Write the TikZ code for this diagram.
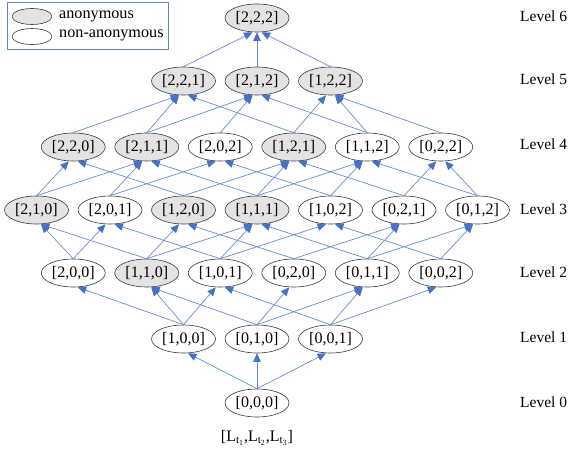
\documentclass[tikz,border=0pt]{standalone}
\usepackage{fontspec}
\setmainfont{Liberation Serif}
\usetikzlibrary{arrows.meta,shapes.geometric}
\definecolor{edgeblue}{HTML}{6A8CD2}
\definecolor{tipblue}{HTML}{4472C4}
\definecolor{anonfill}{HTML}{E3E3E3}
\definecolor{nodeline}{HTML}{3A3A3A}
\definecolor{legendline}{HTML}{6381BE}
\tikzset{
  vec/.style={ellipse,draw=nodeline,line width=0.6pt,fill=white,minimum width=64pt,minimum height=28pt,inner sep=0pt,text=black,font=\fontsize{16}{18}\selectfont},
  anon/.style={vec,fill=anonfill},
  lev/.style={anchor=west,inner sep=0pt,text=black,font=\fontsize{15.5}{18}\selectfont},
  legtext/.style={anchor=west,inner sep=0pt,text=black,font=\fontsize{16.2}{18}\selectfont},
  legell/.style={ellipse,draw=nodeline,line width=0.6pt,minimum width=40pt,minimum height=16pt,inner sep=0pt},
  edge/.style={draw=edgeblue,line width=0.7pt,-{Triangle[length=8.5pt,width=7.5pt,color=tipblue]}}
}
\begin{document}
\begin{tikzpicture}[x=1pt,y=-1pt]
\useasboundingbox (0,0) rectangle (570,452);
% legend
\draw[legendline,line width=0.8pt] (7,2) rectangle (168,49);
\node[legell,fill=anonfill] (la) at (32,16.5) {};
\node[legell,fill=white] (ln) at (32,36.5) {};
\node[legtext] (lat) at (59,16) {anonymous};
\node[legtext] (lnt) at (59,35) {non-anonymous};
% level 6
\node[anon] (n222) at (257,18) {[2,2,2]};
% level 5
\node[anon] (n221) at (183.5,81) {[2,2,1]};
\node[anon] (n212) at (257,81) {[2,1,2]};
\node[anon] (n122) at (330.5,81) {[1,2,2]};
% level 4
\node[anon] (n220) at (73.25,147) {[2,2,0]};
\node[anon] (n211) at (146.75,147) {[2,1,1]};
\node[vec]  (n202) at (220.25,147) {[2,0,2]};
\node[anon] (n121) at (293.75,147) {[1,2,1]};
\node[vec]  (n112) at (367.25,147) {[1,1,2]};
\node[vec]  (n022) at (440.75,147) {[0,2,2]};
% level 3
\node[anon] (n210) at (36.5,210) {[2,1,0]};
\node[vec]  (n201) at (110,210) {[2,0,1]};
\node[anon] (n120) at (183.5,210) {[1,2,0]};
\node[anon] (n111) at (257,210) {[1,1,1]};
\node[vec]  (n102) at (330.5,210) {[1,0,2]};
\node[vec]  (n021) at (404,210) {[0,2,1]};
\node[vec]  (n012) at (477.5,210) {[0,1,2]};
% level 2
\node[vec]  (n200) at (73.25,273) {[2,0,0]};
\node[anon] (n110) at (146.75,273) {[1,1,0]};
\node[vec]  (n101) at (220.25,273) {[1,0,1]};
\node[vec]  (n020) at (293.75,273) {[0,2,0]};
\node[vec]  (n011) at (367.25,273) {[0,1,1]};
\node[vec]  (n002) at (440.75,273) {[0,0,2]};
% level 1
\node[vec] (n100) at (183.5,339) {[1,0,0]};
\node[vec] (n010) at (257,339) {[0,1,0]};
\node[vec] (n001) at (330.5,339) {[0,0,1]};
% level 0
\node[vec] (n000) at (257,403) {[0,0,0]};
% caption
\node[inner sep=0pt,text=black,font=\fontsize{16}{18}\selectfont] (cap) at (257,438)
  {[L\textsubscript{t\textsubscript{1}},L\textsubscript{t\textsubscript{2}},L\textsubscript{t\textsubscript{3}}]};
% level labels
\node[lev] (l6) at (520,16) {Level 6};
\node[lev] (l5) at (520,79) {Level 5};
\node[lev] (l4) at (520,144) {Level 4};
\node[lev] (l3) at (520,209) {Level 3};
\node[lev] (l2) at (520,272) {Level 2};
\node[lev] (l1) at (520,337) {Level 1};
\node[lev] (l0) at (520,402) {Level 0};
% edges: source right of target (+)
\foreach \s/\t in {000/100,100/200,100/110,010/110,001/101,
  200/210,110/210,101/201,020/120,011/111,002/102,
  120/220,111/211,102/202,021/121,012/112,012/022,
  121/221,112/212,112/122,022/122,122/222}
  \draw[edge] (n\s.north) -- ([xshift=4.5pt]n\t.south);
% source left of target (-)
\foreach \s/\t in {000/001,100/101,010/020,010/011,001/011,001/002,
  200/201,110/120,110/111,101/111,101/102,020/021,011/021,011/012,002/012,
  210/220,210/211,201/211,201/202,120/121,111/121,111/112,102/112,021/022,
  220/221,211/221,211/212,202/212,121/122,221/222}
  \draw[edge] (n\s.north) -- ([xshift=-4.5pt]n\t.south);
% vertical
\foreach \s/\t in {000/010,212/222}
  \draw[edge] (n\s.north) -- (n\t.south);
\end{tikzpicture}
\end{document}
